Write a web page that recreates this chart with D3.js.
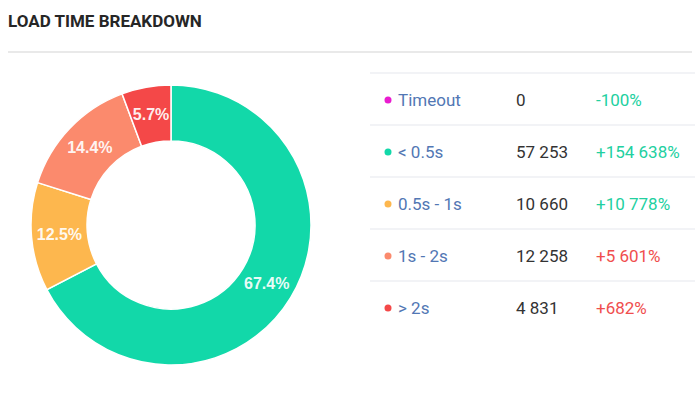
<!DOCTYPE html>
<html>
<head>
<meta charset="utf-8">
<script src="https://cdn.jsdelivr.net/npm/d3@7"></script>
<style>
	body { margin: 0; background: #fff; font-family: Roboto, "Noto Sans", sans-serif; }
	svg { display: block; }
</style>
</head>
<body>
<svg id="chart" width="698" height="393"></svg>
<script>
var categories = ['Timeout', '< 0.5s', '0.5s - 1s', '1s - 2s', '> 2s'];
var counts = [0, 57253, 10660, 12258, 4831];
var changes = ['-100%', '+154 638%', '+10 778%', '+5 601%', '+682%'];
var changeBad = [false, false, false, true, true]; // red for the slow buckets
var colors = ['#e91ccf', '#12d8a9', '#fdb74e', '#fb8a6d', '#f44848'];

var svg = d3.select('#chart');

svg.append('text')
	.attr('x', 8)
	.attr('y', 27)
	.attr('font-size', 17)
	.attr('font-weight', 700)
	.attr('fill', '#262626')
	.text('LOAD TIME BREAKDOWN');

svg.append('line')
	.attr('x1', 8).attr('x2', 692)
	.attr('y1', 52).attr('y2', 52)
	.attr('stroke', '#e2e2e2')
	.attr('stroke-width', 1.5);

// donut
var data = categories.map(function(c, i) {
	return { name: c, value: counts[i], color: colors[i] };
});
var total = d3.sum(counts);

var pie = d3.pie().sort(null).value(function(d) { return d.value; });
var arc = d3.arc().innerRadius(84).outerRadius(140);
var labelArc = d3.arc().innerRadius(112).outerRadius(112);

var donut = svg.append('g').attr('transform', 'translate(171,225)');

var slices = pie(data).filter(function(d) { return d.value > 0; });

donut.selectAll('path')
	.data(slices)
	.enter()
	.append('path')
	.attr('d', arc)
	.attr('fill', function(d) { return d.data.color; })
	.attr('stroke', '#fff')
	.attr('stroke-width', 1.5);

donut.selectAll('text')
	.data(slices)
	.enter()
	.append('text')
	.attr('transform', function(d) {
		var c = labelArc.centroid(d);
		return 'translate(' + c[0] + ',' + c[1] + ')';
	})
	.attr('text-anchor', 'middle')
	.attr('dy', '0.35em')
	.attr('font-family', 'Liberation Sans, Arial, sans-serif')
	.attr('font-size', 16)
	.attr('font-weight', 700)
	.attr('fill', '#fff')
	.attr('fill-opacity', 0.92)
	.text(function(d) { return (d.value / total * 100).toFixed(1) + '%'; });

// table
var rowY = d3.scaleBand().domain(categories).range([73, 333]);

var table = svg.append('g');

table.selectAll('line.sep')
	.data(d3.range(categories.length))
	.enter()
	.append('line')
	.attr('class', 'sep')
	.attr('x1', 370).attr('x2', 695)
	.attr('y1', function(i) { return rowY(categories[i]); })
	.attr('y2', function(i) { return rowY(categories[i]); })
	.attr('stroke', '#e6e8ee')
	.attr('stroke-width', 1.2);

var rows = table.selectAll('g.row')
	.data(categories)
	.enter()
	.append('g')
	.attr('class', 'row')
	.attr('transform', function(d) { return 'translate(0,' + (rowY(d) + rowY.bandwidth() / 2 + 1) + ')'; });

rows.append('circle')
	.attr('cx', 388)
	.attr('cy', 0)
	.attr('r', 3.5)
	.attr('fill', function(d, i) { return colors[i]; });

rows.append('text')
	.attr('x', 398)
	.attr('dy', '0.35em')
	.attr('font-size', 17)
	.attr('fill', '#5277b4')
	.text(function(d) { return d; });

rows.append('text')
	.attr('x', 516)
	.attr('dy', '0.35em')
	.attr('font-size', 17)
	.attr('fill', '#333')
	.text(function(d, i) { return d3.format(',')(counts[i]).replace(/,/g, ' '); });

rows.append('text')
	.attr('x', 596)
	.attr('dy', '0.35em')
	.attr('font-size', 17)
	.attr('fill', function(d, i) { return changeBad[i] ? '#f04e4e' : '#22d0a0'; })
	.text(function(d, i) { return changes[i]; });
</script>
</body>
</html>
